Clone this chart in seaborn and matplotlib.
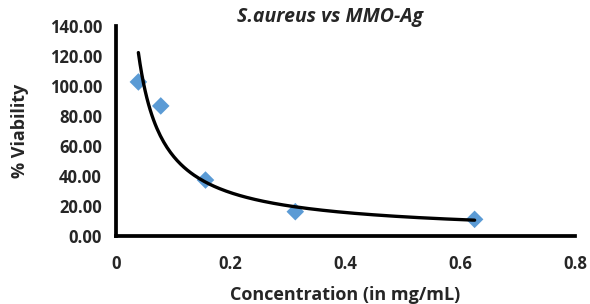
import numpy as np
import pandas as pd
import seaborn as sns
import matplotlib.pyplot as plt

conc = [0.039, 0.078, 0.156, 0.3125, 0.625]
viability = [102.7, 86.7, 37.3, 16.2, 11.1]
yticks = [0, 20, 40, 60, 80, 100, 120, 140]
xticks = [0, 0.2, 0.4, 0.6, 0.8]

df = pd.DataFrame({"conc": conc, "viability": viability})

# power trendline fitted to the points (like Excel's)
b, lna = np.polyfit(np.log(df.conc), np.log(df.viability), 1)
xs = np.linspace(min(conc), max(conc), 200)
fit = pd.DataFrame({"conc": xs, "viability": np.exp(lna) * xs ** b})

sns.set_style("white")
plt.rcParams['font.family'] = ['Open Sans', 'DejaVu Sans']

fig = plt.figure(figsize=(5.9, 3.04), dpi=100)
ax = fig.add_axes([0.1966, 0.2237, 0.778, 0.6908])

sns.scatterplot(data=df, x="conc", y="viability", marker="D", s=80,
                color="#5B9BD5", edgecolor="none", ax=ax, zorder=2)
sns.lineplot(data=fit, x="conc", y="viability", color="black", lw=2.4, ax=ax, zorder=3)

ax.set_xlim(0, 0.8)
ax.set_ylim(0, 140)
ax.set_xticks(xticks)
ax.set_xticklabels(["0", "0.2", "0.4", "0.6", "0.8"])
ax.set_yticks(yticks)
ax.set_yticklabels([f"{v:.2f}" for v in yticks])
for lab in ax.get_xticklabels() + ax.get_yticklabels():
    lab.set_fontweight("bold")
    lab.set_fontsize(12)
ax.tick_params(axis="both", length=4, width=2.6, direction="out", color="black", pad=6)
ax.tick_params(axis="x", pad=10)
sns.despine(ax=ax)
for s in ["left", "bottom"]:
    ax.spines[s].set_linewidth(2.7)
    ax.spines[s].set_color("black")

ax.set_xlabel("Concentration (in mg/mL)", fontsize=13, fontweight="bold", labelpad=9)
ax.set_ylabel("% Viability", fontsize=13, fontweight="bold", labelpad=15)
fig.text(0.56, 0.945, "S.aureus vs MMO-Ag", fontsize=14, fontweight="bold",
         style="italic", ha="center", va="center")

fig.savefig("out.png", dpi=100)
